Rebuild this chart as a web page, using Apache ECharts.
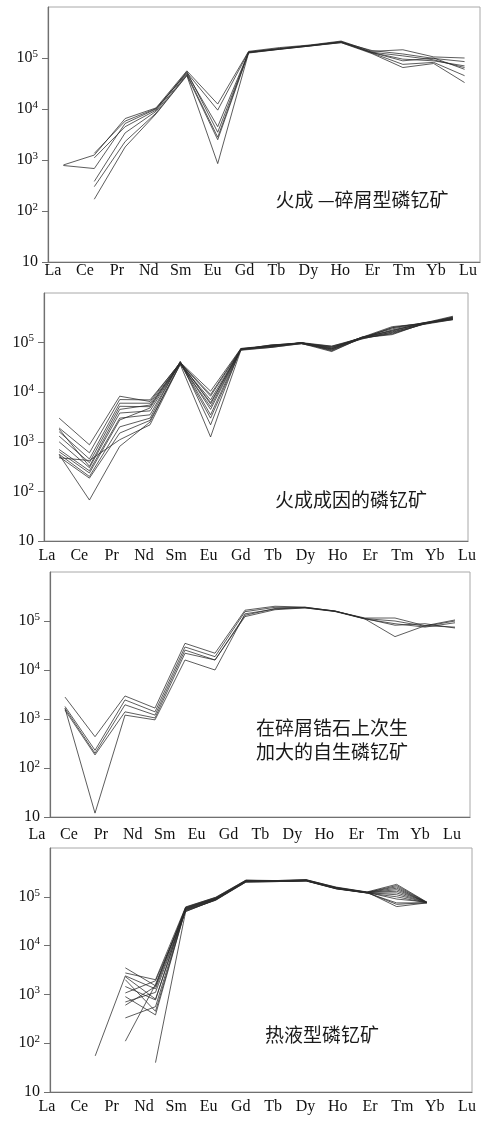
<!DOCTYPE html>
<html><head><meta charset="utf-8">
<script src="https://cdn.jsdelivr.net/npm/echarts@6/dist/echarts.min.js"></script>
<style>html,body{margin:0;padding:0;background:#fff}#c{width:481px;height:1121px}</style>
</head><body><div id="c"></div>
<script>
// ---- data ----
const elements = ['La','Ce','Pr','Nd','Sm','Eu','Gd','Tb','Dy','Ho','Er','Tm','Yb','Lu'];
const yTicks = [10, 100, 1000, 10000, 100000, 1000000];
const panelTitles = [
  ['火成 —碎屑型磷钇矿'],
  ['火成成因的磷钇矿'],
  ['在碎屑锆石上次生', '加大的自生磷钇矿'],
  ['热液型磷钇矿']
];
// panel 1: 火成—碎屑型
const panel1 = [
  [800, 1250, 6500, 10500, 56000, 12500, 135000, 160000, 180000, 215000, 135000, 145000, 105000, 100000],
  [780, 680, 5200, 10000, 52000, 9500, 132000, 150000, 178000, 205000, 140000, 120000, 98000, 85000],
  [null, 1350, 5800, 10200, 50000, 4500, 130000, 155000, 175000, 210000, 130000, 110000, 92000, 65000],
  [null, 1100, 4500, 9500, 54000, 3500, 128000, 148000, 172000, 200000, 128000, 95000, 88000, 70000],
  [null, 380, 3400, 9000, 48000, 2800, 130000, 152000, 176000, 208000, 125000, 75000, 82000, 45000],
  [null, 300, 2300, 8300, 46000, 2500, 127000, 150000, 174000, 200000, 122000, 65000, 78000, 33000],
  [null, 170, 1800, 8000, 45000, 850, 125000, 148000, 172000, 205000, 128000, 88000, 100000, 60000]
];
// panel 2: 火成成因
const panel2 = [
  [3000, 870, 8300, 6500, 40000, 10500, 76000, 88000, 100000, 85000, 125000, 200000, 245000, 340000],
  [1900, 600, 7100, 7000, 39000, 8300, 74000, 85000, 98000, 80000, 128000, 210000, 240000, 320000],
  [1600, 450, 6000, 6000, 38000, 6200, 72000, 90000, 97000, 75000, 122000, 180000, 235000, 300000],
  [1300, 380, 5200, 5100, 41000, 5800, 75000, 82000, 100000, 70000, 130000, 170000, 250000, 310000],
  [1800, 320, 4500, 5500, 37000, 5100, 73000, 86000, 95000, 72000, 120000, 155000, 230000, 290000],
  [1000, 300, 3800, 4200, 39000, 4500, 72000, 80000, 96000, 66000, 125000, 145000, 238000, 330000],
  [700, 260, 3000, 3500, 40000, 3500, 74000, 84000, 99000, 78000, 127000, 190000, 242000, 295000],
  [630, 235, 2750, 4800, 38000, 3000, 71000, 87000, 97000, 82000, 118000, 165000, 232000, 315000],
  [560, 200, 2000, 3000, 42000, 2200, 76000, 83000, 100000, 68000, 124000, 175000, 245000, 305000],
  [500, 185, 1500, 2700, 36000, 1250, 70000, 80000, 95000, 74000, 126000, 150000, 235000, 325000],
  [475, 420, 1100, 2200, 37000, 7000, 73000, 89000, 98000, 84000, 122000, 200000, 248000, 300000],
  [550, 67, 810, 2500, 39000, 9000, 75000, 85000, 100000, 76000, 128000, 160000, 240000, 290000]
];
// panel 3: 次生加大自生
const panel3 = [
  [2800, 435, 2950, 1670, 35000, 22000, 166000, 200000, 192000, 158000, 115000, 115000, 80000, 105000],
  [1800, 230, 2450, 1400, 29500, 18700, 155000, 190000, 188000, 160000, 112000, 100000, 78000, 100000],
  [1650, 200, 1950, 1200, 25500, 16000, 131000, 180000, 186000, 156000, 110000, 88000, 75000, 92000],
  [1520, 185, 1400, 1050, 22000, 16000, 123000, 170000, 185000, 158000, 112000, 82000, 88000, 72000],
  [1650, 12, 1200, 960, 16000, 10000, 140000, 175000, 190000, 160000, 110000, 48000, 80000, 75000]
];
// panel 4: 热液型
const panel4 = [
  [null, 55, 2400, 1300, 52000, 85000, 200000, 205000, 210000, 145000, 120000, 120000, 76000, null],
  [null, null, 3500, 1500, 58000, 92000, 215000, 212000, 220000, 150000, 122000, 150000, 76000, null],
  [null, null, 2750, 2000, 62000, 98000, 220000, 215000, 225000, 155000, 125000, 180000, 78000, null],
  [null, null, 2000, 450, 55000, 90000, 210000, 208000, 215000, 148000, 120000, 100000, 75000, null],
  [null, null, 1450, 770, 60000, 95000, 205000, 210000, 218000, 152000, 124000, 70000, 76000, null],
  [null, null, 1070, 1900, 50000, 88000, 200000, 205000, 212000, 146000, 121000, 140000, 77000, null],
  [null, null, 900, 380, 57000, 93000, 215000, 215000, 222000, 158000, 126000, 63000, 75000, null],
  [null, null, 700, 1100, 53000, 86000, 208000, 210000, 216000, 150000, 123000, 160000, 76000, null],
  [null, null, 600, 1450, 61000, 97000, 218000, 212000, 220000, 154000, 124000, 90000, 78000, null],
  [null, null, 330, 560, 56000, 91000, 212000, 208000, 214000, 149000, 122000, 110000, 76000, null],
  [null, null, 110, 1600, 59000, 94000, 214000, 210000, 218000, 151000, 123000, 130000, 77000, null],
  [null, null, null, 40, 50000, 87000, 205000, 206000, 212000, 147000, 121000, 75000, 75000, null],
  [null, null, 2300, 800, 54000, 89000, 210000, 209000, 216000, 150000, 122000, 170000, 77000, null]
];
const panels = [panel1, panel2, panel3, panel4];

// ---- layout ----
const dataGrids = [
  {left: 48, top: 7, width: 432, height: 255},
  {left: 44, top: 293, width: 424, height: 248},
  {left: 50, top: 572, width: 420, height: 245},
  {left: 50, top: 848, width: 422, height: 244}
];
const labelGrids = [
  {left: 53, right: 13, top: 260, height: 1},
  {left: 47, right: 14, top: 545, height: 1},
  {left: 37, right: 29, top: 824, height: 1},
  {left: 47, right: 14, top: 1096, height: 1}
];
const titlePos = [[362, 200], [351, 500], [332, 728], [322, 1035]];

const serif = '"Liberation Serif", "DejaVu Serif", serif';
const cjk = '"Noto Sans CJK SC", sans-serif';
const shownTicks = yTicks.slice(0, yTicks.length - 1);

const grid = [], xAxis = [], yAxis = [], series = [], graphic = [];
dataGrids.forEach((g, i) => {
  grid.push(Object.assign({show: true, borderColor: '#a8a8a8', borderWidth: 1, containLabel: false}, g));
  xAxis.push({
    gridIndex: i, type: 'category', data: elements, boundaryGap: true,
    axisLine: {show: true, lineStyle: {color: '#707070', width: 1.2}},
    axisTick: {show: false}, axisLabel: {show: false}, splitLine: {show: false}
  });
  yAxis.push({
    gridIndex: i, type: 'log', logBase: 10, min: yTicks[0], max: yTicks[yTicks.length - 1],
    axisLine: {show: true, lineStyle: {color: '#707070', width: 1.2}},
    axisTick: {show: true, length: 6, lineStyle: {color: '#707070'}, customValues: shownTicks},
    minorTick: {show: false}, splitLine: {show: false},
    axisLabel: {
      margin: 10,
      customValues: shownTicks,
      formatter: v => {
        const e = Math.round(Math.log10(v));
        if (e >= 6) return '';
        if (e === 1) return '{b|10}';
        return '{b|10}{s|' + e + '}';
      },
      rich: {
        b: {fontFamily: serif, fontSize: 16, color: '#111', lineHeight: 19},
        s: {fontFamily: serif, fontSize: 11, color: '#111', verticalAlign: 'top', lineHeight: 11}
      }
    }
  });
});
labelGrids.forEach((g, i) => {
  grid.push(Object.assign({show: false, containLabel: false}, g));
  xAxis.push({
    gridIndex: 4 + i, type: 'category', data: elements, boundaryGap: false,
    axisLine: {show: false}, axisTick: {show: false}, splitLine: {show: false},
    axisLabel: {interval: 0, margin: 2, fontFamily: serif, fontSize: 16, color: '#111',
      showMinLabel: true, showMaxLabel: true, hideOverlap: false}
  });
  yAxis.push({gridIndex: 4 + i, type: 'value', show: false});
});
panels.forEach((rows, p) => {
  rows.forEach((row) => {
    series.push({
      type: 'line', xAxisIndex: p, yAxisIndex: p, data: row,
      symbol: 'none', connectNulls: false, silent: true,
      lineStyle: {color: '#2a2a2a', width: 0.9, opacity: 0.85}
    });
  });
});
panelTitles.forEach((lines, p) => {
  lines.forEach((t, j) => {
    graphic.push({
      type: 'text', x: titlePos[p][0], y: titlePos[p][1] + j * 24,
      style: {text: t, font: '19px ' + cjk, fill: '#1a1a1a', align: 'center', verticalAlign: 'middle'}
    });
  });
});

const chart = echarts.init(document.getElementById('c'), null, {renderer: 'canvas'});
chart.setOption({animation: false, backgroundColor: '#fff', grid, xAxis, yAxis, series, graphic});
</script></body></html>
